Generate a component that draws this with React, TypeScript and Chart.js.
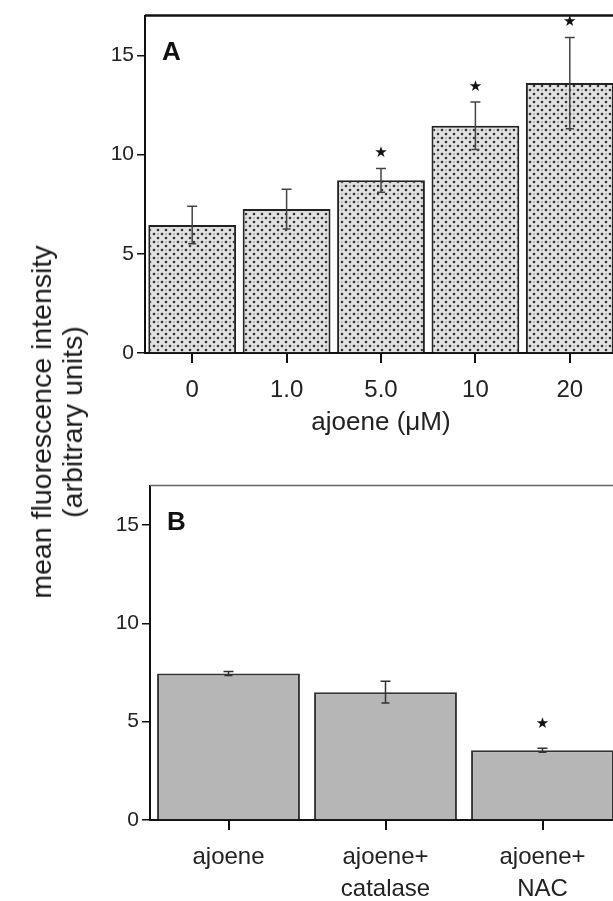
import React, { useEffect, useRef } from "react";
import { Chart, registerables } from "chart.js";

Chart.register(...registerables);

// ---------- data ----------
const concLabels = ["0", "1.0", "5.0", "10", "20"];
const concValues = [6.45, 7.25, 8.7, 11.45, 13.6];
const concErrors = [0.95, 1.0, 0.6, 1.2, 2.3];
const concStars = [false, false, true, true, true];

const treatLabels = [["ajoene"], ["ajoene+", "catalase"], ["ajoene+", "NAC"]];
const treatValues = [7.45, 6.5, 3.55];
const treatErrors = [0.1, 0.55, 0.1];
const treatStars = [false, false, true];

const yTickValues = [0, 5, 10, 15];
const yMax = 17;

const FONT = "'Liberation Sans', Arial, sans-serif";

function makePattern(): CanvasPattern | string {
  const c = document.createElement("canvas");
  c.width = 8;
  c.height = 8;
  const g = c.getContext("2d");
  if (!g) return "#d8d8d8";
  g.fillStyle = "#e2e2e2";
  g.fillRect(0, 0, 8, 8);
  g.fillStyle = "#333";
  g.beginPath();
  g.arc(2, 2, 1.3, 0, Math.PI * 2);
  g.fill();
  g.beginPath();
  g.arc(6, 6, 1.3, 0, Math.PI * 2);
  g.fill();
  g.fillStyle = "#999";
  g.beginPath();
  g.arc(6, 2, 0.8, 0, Math.PI * 2);
  g.fill();
  const p = g.createPattern(c, "repeat");
  return p || "#d8d8d8";
}

function overlayPlugin(
  errs: number[],
  stars: boolean[],
  letter: string,
  frameColor: string,
  frameWidth: number,
  errColor: string,
  starGap: number
) {
  return {
    id: "overlay" + letter,
    afterDatasetsDraw(chart: any) {
      const { ctx, chartArea } = chart;
      const x = chart.scales.x;
      const y = chart.scales.y;
      const data = chart.data.datasets[0].data as number[];
      ctx.save();
      // top frame line
      ctx.strokeStyle = frameColor;
      ctx.lineWidth = frameWidth;
      ctx.beginPath();
      ctx.moveTo(chartArea.left, chartArea.top);
      ctx.lineTo(chartArea.right, chartArea.top);
      ctx.stroke();
      // error bars
      ctx.strokeStyle = errColor;
      ctx.lineWidth = 1.5;
      data.forEach((v, i) => {
        const px = x.getPixelForValue(i);
        const yt = y.getPixelForValue(v + errs[i]);
        const yb = y.getPixelForValue(v - errs[i]);
        ctx.beginPath();
        ctx.moveTo(px, yt);
        ctx.lineTo(px, yb);
        ctx.moveTo(px - 5, yt);
        ctx.lineTo(px + 5, yt);
        ctx.moveTo(px - 4, yb);
        ctx.lineTo(px + 4, yb);
        ctx.stroke();
        if (stars[i]) {
          ctx.fillStyle = "#111";
          ctx.font = "15px 'DejaVu Sans', sans-serif";
          ctx.textAlign = "center";
          ctx.textBaseline = "middle";
          ctx.fillText("\u2605", px, yt - starGap);
        }
      });
      // panel letter
      ctx.fillStyle = "#111";
      ctx.font = "bold 26px " + FONT;
      ctx.textAlign = "left";
      ctx.textBaseline = "middle";
      ctx.fillText(letter, chartArea.left + 17, chartArea.top + 37);
      ctx.restore();
    },
  };
}

function baseOptions(
  axisWidth: number,
  xAxisHeight: number,
  padRight: number,
  labelPad: number,
  labelLineHeight: number,
  xTitle: string | null
): any {
  return {
    responsive: false,
    animation: false,
    events: [],
    layout: { padding: { top: 15, right: padRight, bottom: 0, left: 0 } },
    plugins: { legend: { display: false }, tooltip: { enabled: false } },
    scales: {
      x: {
        type: "category",
        offset: true,
        grid: {
          display: true,
          drawOnChartArea: false,
          drawTicks: true,
          tickLength: 10,
          offset: false,
          color: "#111",
          lineWidth: 2,
        },
        border: { display: true, color: "#111", width: 2 },
        ticks: {
          color: "#222",
          padding: labelPad,
          maxRotation: 0,
          autoSkip: false,
          font: { family: FONT, size: 24, lineHeight: labelLineHeight },
        },
        title: xTitle
          ? {
              display: true,
              text: xTitle,
              color: "#222",
              padding: 0,
              font: { family: FONT, size: 26, lineHeight: 1.2 },
            }
          : { display: false },
        afterFit(scale: any) {
          scale.height = xAxisHeight;
        },
      },
      y: {
        min: 0,
        max: yMax,
        grid: {
          display: true,
          drawOnChartArea: false,
          drawTicks: true,
          tickLength: 8,
          color: "#111",
          lineWidth: 1.5,
        },
        border: { display: true, color: "#111", width: 2 },
        afterBuildTicks(scale: any) {
          scale.ticks = yTickValues.map((v) => ({ value: v }));
        },
        ticks: {
          color: "#222",
          padding: 3,
          font: { family: FONT, size: 21 },
        },
        afterFit(scale: any) {
          scale.width = axisWidth;
        },
      },
    },
  };
}

function ChartA() {
  const ref = useRef<HTMLCanvasElement>(null);
  useEffect(() => {
    if (!ref.current) return;
    const pattern = makePattern();
    const opts = baseOptions(145, 85, 23, 13, 1.2, "ajoene (\u03bcM)");
    opts.datasets = { bar: { categoryPercentage: 1, barPercentage: 0.93 } };
    const chart = new Chart(ref.current, {
      type: "bar",
      data: {
        labels: concLabels,
        datasets: [
          {
            data: concValues,
            backgroundColor: pattern as any,
            borderColor: "#222",
            borderWidth: 2,
            borderSkipped: "bottom",
          },
        ],
      },
      options: opts,
      plugins: [overlayPlugin(concErrors, concStars, "A", "#111", 2.5, "#444", 15)],
    });
    return () => chart.destroy();
  }, []);
  return (
    <canvas
      ref={ref}
      width={640}
      height={438}
      style={{ position: "absolute", left: 0, top: 0, width: 640, height: 438 }}
    />
  );
}

function ChartB() {
  const ref = useRef<HTMLCanvasElement>(null);
  useEffect(() => {
    if (!ref.current) return;
    const opts = baseOptions(150, 81, 19, 11, 1.33, null);
    opts.datasets = { bar: { categoryPercentage: 1, barPercentage: 0.91 } };
    const chart = new Chart(ref.current, {
      type: "bar",
      data: {
        labels: treatLabels,
        datasets: [
          {
            data: treatValues,
            backgroundColor: "#b6b6b6",
            borderColor: "#333",
            borderWidth: 2,
            borderSkipped: "bottom",
          },
        ],
      },
      options: opts,
      plugins: [overlayPlugin(treatErrors, treatStars, "B", "#666", 1.5, "#333", 24)],
    });
    return () => chart.destroy();
  }, []);
  return (
    <canvas
      ref={ref}
      width={640}
      height={431}
      style={{ position: "absolute", left: 0, top: 470, width: 640, height: 431 }}
    />
  );
}

export default function App() {
  return (
    <div
      style={{
        position: "absolute",
        left: 0,
        top: 0,
        width: 613,
        height: 901,
        overflow: "hidden",
        background: "#fff",
      }}
    >
      <ChartA />
      <ChartB />
      <div
        style={{
          position: "absolute",
          left: 57,
          top: 422,
          transform: "translate(-50%, -50%) rotate(-90deg)",
          fontFamily: FONT,
          fontSize: 28.5,
          lineHeight: "31px",
          color: "#1a1a1a",
          textAlign: "center",
          whiteSpace: "nowrap",
        }}
      >
        mean fluorescence intensity
        <br />
        (arbitrary units)
      </div>
    </div>
  );
}
